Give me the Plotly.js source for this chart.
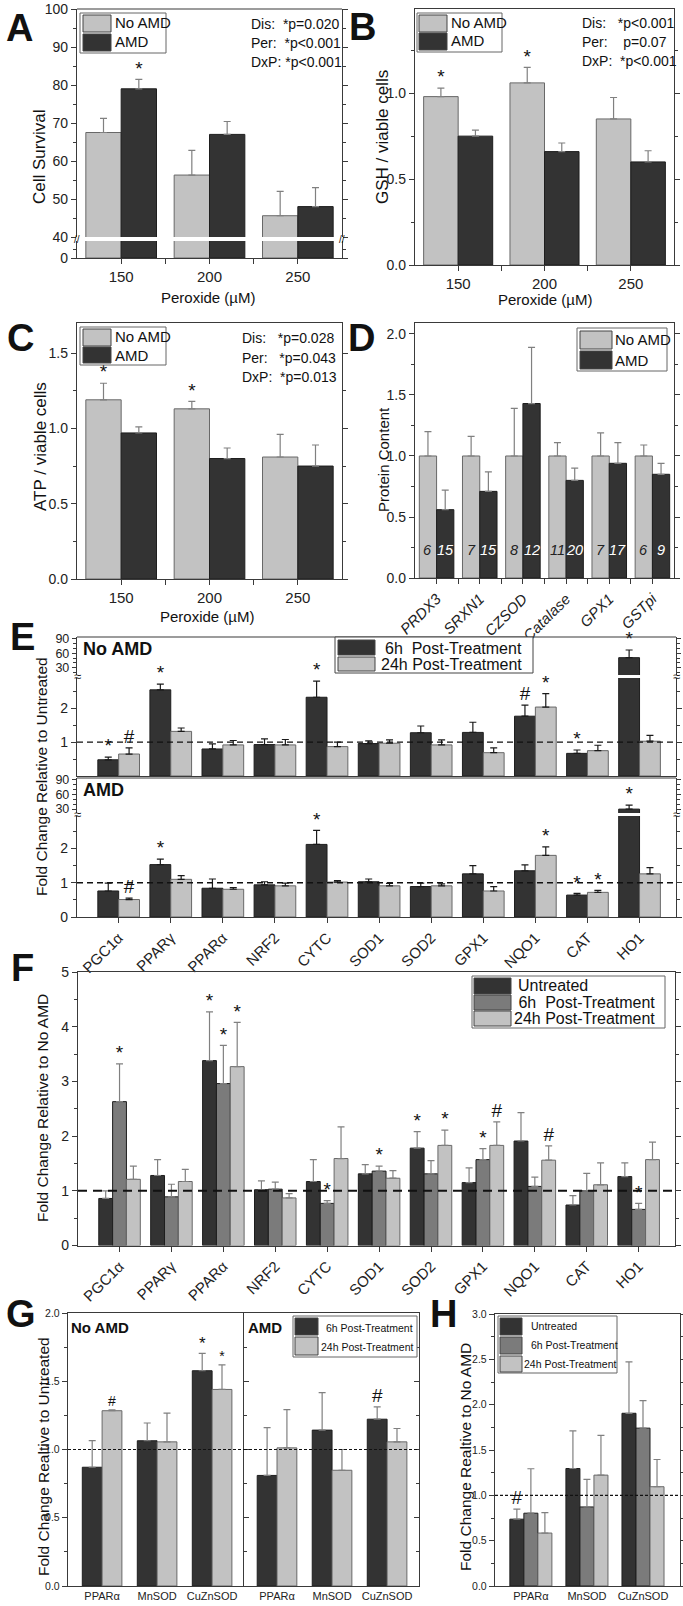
<!DOCTYPE html>
<html>
<head>
<meta charset="utf-8">
<script src="https://cdn.plot.ly/plotly-3.0.1.min.js"></script>
<style>
  body { margin: 0; background: #fff; }
  #fig { width: 683px; height: 1606px; }
</style>
</head>
<body>
<div id="fig"></div>
<script>
// ---- data ----
// A: cell survival
var peroxide = ['150', '200', '250'];
var aNoAmd = [67.5, 56.3, 45.6], aNoAmdErr = [3.7, 6.5, 6.4];
var aAmd = [79, 67, 48], aAmdErr = [2.5, 3.4, 5.0];
var aSigAmd = ['*', '', ''];
// B: GSH
var bNoAmd = [0.98, 1.06, 0.85], bNoAmdErr = [0.05, 0.09, 0.125];
var bAmd = [0.75, 0.66, 0.60], bAmdErr = [0.035, 0.05, 0.065];
var bSigNo = ['*', '*', ''];
// C: ATP
var cNoAmd = [1.19, 1.13, 0.81], cNoAmdErr = [0.11, 0.05, 0.15];
var cAmd = [0.97, 0.80, 0.75], cAmdErr = [0.04, 0.07, 0.14];
var cSigNo = ['*', '*', ''];
// D: protein content
var proteins = ['PRDX3', 'SRXN1', 'CZSOD', 'Catalase', 'GPX1', 'GSTpi'];
var dNoAmd = [1, 1, 1, 1, 1, 1], dNoAmdErr = [0.2, 0.16, 0.39, 0.11, 0.19, 0.09];
var dAmd = [0.56, 0.71, 1.43, 0.80, 0.94, 0.85], dAmdErr = [0.16, 0.16, 0.46, 0.10, 0.17, 0.09];
var dNoAmdN = [6, 7, 8, 11, 7, 6], dAmdN = [15, 15, 12, 20, 17, 9];
// E: fold change relative to untreated
var genes = ['PGC1α', 'PPARγ', 'PPARα', 'NRF2', 'CYTC', 'SOD1', 'SOD2', 'GPX1', 'NQO1', 'CAT', 'HO1'];
var eNo6h = [0.48, 2.55, 0.80, 0.93, 2.33, 0.96, 1.28, 1.29, 1.77, 0.67, 51];
var eNo6hErr = [0.08, 0.17, 0.15, 0.17, 0.48, 0.08, 0.20, 0.30, 0.33, 0.10, 16];
var eNo24h = [0.65, 1.32, 0.92, 0.92, 0.87, 0.97, 0.92, 0.69, 2.04, 0.75, 1.03];
var eNo24hErr = [0.18, 0.10, 0.13, 0.16, 0.13, 0.10, 0.15, 0.14, 0.40, 0.16, 0.17];
var eNoSig6h = ['*', '*', '', '', '*', '', '', '', '#', '*', '*'];
var eNoSig24h = ['#', '', '', '', '', '', '', '', '*', '', ''];
var eAmd6h = [0.76, 1.53, 0.84, 0.94, 2.12, 1.03, 0.89, 1.26, 1.35, 0.64, 30];
var eAmd6hErr = [0.23, 0.16, 0.27, 0.09, 0.41, 0.08, 0.10, 0.24, 0.17, 0.05, 8];
var eAmd24h = [0.51, 1.10, 0.81, 0.91, 1.02, 0.91, 0.91, 0.76, 1.80, 0.72, 1.26];
var eAmd24hErr = [0.04, 0.11, 0.05, 0.08, 0.04, 0.07, 0.06, 0.13, 0.25, 0.06, 0.18];
var eAmdSig6h = ['', '*', '', '', '*', '', '', '', '', '*', '*'];
var eAmdSig24h = ['#', '', '', '', '', '', '', '', '*', '*', ''];
// F: fold change relative to No AMD
var fUnt = [0.86, 1.28, 3.38, 1.02, 1.17, 1.31, 1.78, 1.15, 1.91, 0.74, 1.26];
var fUntErr = [0.14, 0.29, 0.89, 0.16, 0.40, 0.17, 0.30, 0.27, 0.52, 0.17, 0.25];
var f6h = [2.63, 0.89, 2.96, 1.03, 0.77, 1.36, 1.31, 1.57, 1.08, 1.00, 0.66];
var f6hErr = [0.69, 0.23, 0.70, 0.13, 0.05, 0.09, 0.24, 0.20, 0.17, 0.32, 0.11];
var f24h = [1.21, 1.17, 3.27, 0.87, 1.59, 1.23, 1.83, 1.83, 1.56, 1.11, 1.57];
var f24hErr = [0.24, 0.22, 0.81, 0.08, 0.58, 0.14, 0.28, 0.43, 0.26, 0.40, 0.32];
var fSigUnt = ['', '', '*', '', '', '', '*', '', '', '', ''];
var fSig6h = ['*', '', '*', '', '*', '*', '', '*', '', '', '*'];
var fSig24h = ['', '', '*', '', '', '', '*', '#', '#', '', ''];
// G / H: antioxidant enzymes
var enzymes = ['PPARα', 'MnSOD', 'CuZnSOD'];
var gNo6h = [0.87, 1.064, 1.577], gNo6hErr = [0.195, 0.13, 0.127];
var gNo24h = [1.284, 1.056, 1.44], gNo24hErr = [0.006, 0.21, 0.18];
var gNoSig6h = ['', '', '*'], gNoSig24h = ['#', '', '*'];
var gAmd6h = [0.81, 1.142, 1.222], gAmd6hErr = [0.35, 0.274, 0.09];
var gAmd24h = [1.012, 0.848, 1.056], gAmd24hErr = [0.28, 0.152, 0.098];
var gAmdSig6h = ['', '', '#'];
var hUnt = [0.737, 1.296, 1.905], hUntErr = [0.11, 0.416, 0.566];
var h6h = [0.803, 0.872, 1.741], h6hErr = [0.49, 0.303, 0.303];
var h24h = [0.584, 1.223, 1.095], h24hErr = [0.226, 0.438, 0.3];
var hSigUnt = ['#', '', ''];

// ---- styling ----
var W = 683, H = 1606;
var cLight = '#c2c2c2', cMid = '#7b7b7b', cDark = '#333333';
var errGray = '#808080', axCol = '#3a3a3a';
var font = 'Arial, "Liberation Sans", Helvetica, sans-serif';
var narrow = '"Liberation Sans Narrow", "Arial Narrow", Arial, sans-serif';

function px(x) { return x / W; }
function py(y) { return 1 - y / H; }
function dom(top, bottom) { return [py(bottom), py(top)]; }
function idx(arr) { return arr.map(function (d, i) { return i; }); }
function zeros(arr) { return arr.map(function () { return 0; }); }
function between(arr) { return idx(arr).slice(1).map(function (i) { return i - 0.5; }); }

var data = [];
var shapes = [];
var notes = [];

function addBars(xa, ya, vals, errs, off, w, color, errColor) {
  data.push({
    type: 'bar', x: idx(vals), y: vals, xaxis: xa, yaxis: ya, offset: off, width: w,
    marker: {color: color, line: {color: color === cLight ? '#686868' : '#1e1e1e', width: 1}},
    error_y: {type: 'data', symmetric: false, array: errs, arrayminus: zeros(vals),
      color: errColor, thickness: 1.2, width: 3.5},
    hoverinfo: 'skip'
  });
}

function addMarks(xa, ya, vals, errs, sig, off, w, lo, hi, size) {
  var x = [], y = [], t = [];
  vals.forEach(function (v, i) {
    var top = v + errs[i];
    if (sig[i] && top >= lo && top <= hi) { x.push(i + off + w / 2); y.push(top); t.push(sig[i]); }
  });
  if (!x.length) return;
  data.push({
    type: 'scatter', mode: 'text', x: x, y: y, text: t, textposition: 'top center',
    textfont: {size: size || 19, family: font, color: '#111'}, cliponaxis: false,
    xaxis: xa, yaxis: ya, hoverinfo: 'skip'
  });
}

function note(text, x, y, size, opts) {
  var a = {text: text, xref: 'paper', yref: 'paper', x: px(x), y: py(y), showarrow: false,
    xanchor: 'left', yanchor: 'middle', font: {family: font, size: size, color: '#111'}};
  for (var k in (opts || {})) a[k] = opts[k];
  notes.push(a);
}

function rect(x0, y0, x1, y1, fill, line) {
  shapes.push({type: 'rect', xref: 'paper', yref: 'paper', x0: px(x0), x1: px(x1), y0: py(y1), y1: py(y0),
    fillcolor: fill, line: {color: line, width: 1}});
}

function ax(o) {
  var a = {showline: true, linecolor: axCol, linewidth: 1.2, ticks: 'outside', ticklen: 5, tickwidth: 1,
    tickcolor: axCol, showgrid: false, zeroline: false, fixedrange: true, automargin: false,
    tickfont: {family: font, size: 14, color: '#222'}};
  for (var k in o) a[k] = o[k];
  return a;
}
function minorD(d) { return {dtick: d, ticks: 'outside', ticklen: 3, tickcolor: axCol}; }
function minorV(v, len) { return {tickmode: 'array', tickvals: v, ticks: 'outside', ticklen: len || 3, tickcolor: axCol}; }

// ---- A ----
addBars('x', 'y', aNoAmd, aNoAmdErr, -0.4, 0.4, cLight, errGray);
addBars('x', 'y2', aNoAmd, aNoAmdErr, -0.4, 0.4, cLight, errGray);
addBars('x', 'y', aAmd, aAmdErr, 0, 0.4, cDark, errGray);
addBars('x', 'y2', aAmd, aAmdErr, 0, 0.4, cDark, errGray);
addMarks('x', 'y', aAmd, aAmdErr, aSigAmd, 0, 0.4, 40, 100);
// ---- B ----
addBars('x3', 'y3', bNoAmd, bNoAmdErr, -0.4, 0.4, cLight, errGray);
addBars('x3', 'y3', bAmd, bAmdErr, 0, 0.4, cDark, errGray);
addMarks('x3', 'y3', bNoAmd, bNoAmdErr, bSigNo, -0.4, 0.4, -1e9, 1e9);
// ---- C ----
addBars('x4', 'y4', cNoAmd, cNoAmdErr, -0.4, 0.4, cLight, errGray);
addBars('x4', 'y4', cAmd, cAmdErr, 0, 0.4, cDark, errGray);
addMarks('x4', 'y4', cNoAmd, cNoAmdErr, cSigNo, -0.4, 0.4, -1e9, 1e9);
// ---- D ----
addBars('x5', 'y5', dNoAmd, dNoAmdErr, -0.4, 0.4, cLight, errGray);
addBars('x5', 'y5', dAmd, dAmdErr, 0, 0.4, cDark, errGray);
dNoAmdN.forEach(function (n, i) {
  notes.push({text: '<i>' + n + '</i>', xref: 'x5', yref: 'y5 domain', x: i - 0.2, y: 0.07, showarrow: false,
    font: {family: font, size: 14.5, color: '#222'}});
  notes.push({text: '<i>' + dAmdN[i] + '</i>', xref: 'x5', yref: 'y5 domain', x: i + 0.2, y: 0.07, showarrow: false,
    font: {family: font, size: 14.5, color: '#fff'}});
});
// ---- E ----
[['y6', 15, 94], ['y7', 0, 2.9]].forEach(function (s) {
  addBars('x6', s[0], eNo6h, eNo6hErr, -0.4, 0.4, cDark, '#1a1a1a');
  addBars('x6', s[0], eNo24h, eNo24hErr, 0, 0.4, cLight, '#1a1a1a');
  addMarks('x6', s[0], eNo6h, eNo6hErr, eNoSig6h, -0.4, 0.4, s[1], s[2], 19);
  addMarks('x6', s[0], eNo24h, eNo24hErr, eNoSig24h, 0, 0.4, s[1], s[2], 19);
});
[['y8', 22, 94], ['y9', 0, 2.95]].forEach(function (s) {
  addBars('x7', s[0], eAmd6h, eAmd6hErr, -0.4, 0.4, cDark, '#1a1a1a');
  addBars('x7', s[0], eAmd24h, eAmd24hErr, 0, 0.4, cLight, '#1a1a1a');
  addMarks('x7', s[0], eAmd6h, eAmd6hErr, eAmdSig6h, -0.4, 0.4, s[1], s[2], 19);
  addMarks('x7', s[0], eAmd24h, eAmd24hErr, eAmdSig24h, 0, 0.4, s[1], s[2], 19);
});
// ---- F ----
var fw = 0.8 / 3;
addBars('x8', 'y10', fUnt, fUntErr, -0.4, fw, cDark, errGray);
addBars('x8', 'y10', f6h, f6hErr, -0.4 + fw, fw, cMid, errGray);
addBars('x8', 'y10', f24h, f24hErr, -0.4 + 2 * fw, fw, cLight, errGray);
addMarks('x8', 'y10', fUnt, fUntErr, fSigUnt, -0.4, fw, -1e9, 1e9);
addMarks('x8', 'y10', f6h, f6hErr, fSig6h, -0.4 + fw, fw, -1e9, 1e9);
addMarks('x8', 'y10', f24h, f24hErr, fSig24h, -0.4 + 2 * fw, fw, -1e9, 1e9);
// ---- G ----
addBars('x9', 'y11', gNo6h, gNo6hErr, -0.36, 0.36, cDark, errGray);
addBars('x9', 'y11', gNo24h, gNo24hErr, 0, 0.36, cLight, errGray);
addMarks('x9', 'y11', gNo6h, gNo6hErr, gNoSig6h, -0.36, 0.36, -1e9, 1e9, 17);
addMarks('x9', 'y11', gNo24h, gNo24hErr, gNoSig24h, 0, 0.36, -1e9, 1e9, 14);
addBars('x10', 'y12', gAmd6h, gAmd6hErr, -0.36, 0.36, cDark, errGray);
addBars('x10', 'y12', gAmd24h, gAmd24hErr, 0, 0.36, cLight, errGray);
addMarks('x10', 'y12', gAmd6h, gAmd6hErr, gAmdSig6h, -0.36, 0.36, -1e9, 1e9, 19);
// ---- H ----
addBars('x11', 'y13', hUnt, hUntErr, -0.375, 0.25, cDark, errGray);
addBars('x11', 'y13', h6h, h6hErr, -0.125, 0.25, cMid, errGray);
addBars('x11', 'y13', h24h, h24hErr, 0.125, 0.25, cLight, errGray);
addMarks('x11', 'y13', hUnt, hUntErr, hSigUnt, -0.375, 0.25, -1e9, 1e9, 19);

// ---- reference lines and borders ----
function hline(xa, ya, val, dash, width) {
  shapes.push({type: 'line', xref: xa + ' domain', x0: 0, x1: 1, yref: ya, y0: val, y1: val,
    line: {color: '#111', width: width, dash: dash}});
}
hline('x6', 'y7', 1, '6px,4px', 1.3);
hline('x7', 'y9', 1, '6px,4px', 1.3);
hline('x8', 'y10', 1, '9px,6px', 2);
hline('x9', 'y11', 1, '3px,2px', 1.2);
hline('x10', 'y12', 1, '3px,2px', 1.2);
hline('x11', 'y13', 1, '3px,2px', 1.2);
[['x', 'y'], ['x6', 'y6'], ['x7', 'y8']].forEach(function (p) {
  shapes.push({type: 'line', xref: p[0] + ' domain', x0: 0, x1: 1, yref: p[1] + ' domain', y0: 1, y1: 1,
    line: {color: axCol, width: 1.2}});
});
// axis break marks
note('//', 77, 239, 10, {xanchor: 'center'});
note('//', 342, 239, 10, {xanchor: 'center'});
[676.5, 814.5].forEach(function (y) {
  note('≈', 77, y, 13, {xanchor: 'center'});
  note('≈', 676, y, 13, {xanchor: 'center'});
});

// ---- legends ----
rect(80, 13, 166, 53, '#fff', '#666');
rect(83, 15, 111, 32, cLight, '#444'); rect(83, 34, 111, 51, cDark, '#444');
note('No AMD', 113, 23, 15); note('AMD', 113, 42, 15);
rect(417, 13, 502, 52, '#fff', '#666');
rect(419, 15, 447, 32, cLight, '#444'); rect(419, 33, 447, 50, cDark, '#444');
note('No AMD', 449, 23, 15); note('AMD', 449, 41, 15);
rect(80, 327, 166, 365, '#fff', '#666');
rect(83, 329, 111, 346, cLight, '#444'); rect(83, 347, 111, 363, cDark, '#444');
note('No AMD', 113, 337, 15); note('AMD', 113, 355, 15);
rect(577, 328, 667, 371, '#fff', '#666');
rect(580, 331, 612, 349, cLight, '#444'); rect(580, 351, 612, 369, cDark, '#444');
note('No AMD', 613, 340, 15); note('AMD', 613, 360, 15);
rect(335, 637, 533, 673, '#fff', '#444');
rect(338, 640, 375, 655, cDark, '#444'); rect(338, 657, 375, 671, cLight, '#444');
note('6h\u00a0 Post-Treatment', 383, 648, 16); note('24h Post-Treatment', 379, 664, 16);
rect(472, 976, 665, 1028, '#fff', '#666');
rect(474, 978, 511, 994, cDark, '#444'); rect(474, 995, 511, 1010, cMid, '#444'); rect(474, 1011, 511, 1026, cLight, '#444');
note('Untreated', 516, 985, 16); note('\u00a06h\u00a0 Post-Treatment', 512, 1002, 16); note('24h Post-Treatment', 512, 1018, 16);
var legN = {family: narrow, size: 10.5, color: '#111'};
rect(293, 1316, 417, 1357, '#fff', '#666');
rect(295, 1318, 318, 1335, cDark, '#444'); rect(295, 1337, 318, 1355, cLight, '#444');
note('6h Post-Treatment', 415, 1328, 10.5, {xanchor: 'right', font: legN});
note('24h Post-Treatment', 415, 1347, 10.5, {xanchor: 'right', font: legN});
rect(498, 1316, 617, 1373, '#fff', '#666');
rect(500, 1318, 522, 1335, cDark, '#444'); rect(500, 1337, 522, 1354, cMid, '#444'); rect(500, 1356, 522, 1372, cLight, '#444');
note('Untreated', 529, 1326, 10.5, {font: legN});
note('6h Post-Treatment', 529, 1345, 10.5, {font: legN});
note('24h Post-Treatment', 522, 1364, 10.5, {font: legN});

// ---- statistics text ----
['Dis:\u00a0 *p=0.020', 'Per:\u00a0 *p&lt;0.001', 'DxP: *p&lt;0.001'].forEach(function (t, i) { note(t, 249, 24 + i * 19, 14); });
['Dis:\u00a0\u00a0 *p&lt;0.001', 'Per:\u00a0\u00a0\u00a0 p=0.07', 'DxP:\u00a0 *p&lt;0.001'].forEach(function (t, i) { note(t, 580, 23 + i * 19, 14); });
['Dis:\u00a0\u00a0 *p=0.028', 'Per:\u00a0\u00a0 *p=0.043', 'DxP:\u00a0 *p=0.013'].forEach(function (t, i) { note(t, 240, 338 + i * 19.5, 14); });

// ---- panel letters and labels ----
[['A', 19, 28], ['B', 362, 27], ['C', 20, 338], ['D', 361, 338], ['E', 22, 637], ['F', 22, 968], ['G', 21, 1314], ['H', 443, 1314]]
  .forEach(function (l) { note('<b>' + l[0] + '</b>', l[1], l[2], 38, {xanchor: 'center'}); });
note('<b>No AMD</b>', 81, 649, 18); note('<b>AMD</b>', 81, 790, 18);
note('<b>No AMD</b>', 69, 1327, 15); note('<b>AMD</b>', 246, 1327, 15);

// ---- axis titles ----
function ytitle(t, x, y, size) { note(t, x, y, size, {xanchor: 'center', textangle: -90}); }
ytitle('Cell Survival', 40, 157, 17);
ytitle('GSH / viable cells', 382, 137, 17);
ytitle('ATP / viable cells', 40, 447, 17);
ytitle('Protein Content', 383, 460, 15);
ytitle('Fold Change Relative to Untreated', 42, 777, 15.5);
ytitle('Fold Change Relative to No AMD', 42, 1108, 15.5);
ytitle('Fold Change Realtive to Untreated', 43, 1457, 15.5);
ytitle('Fold Change Realtive to No AMD', 465, 1457, 15.5);
note('Peroxide (µM)', 208, 298, 15, {xanchor: 'center'});
note('Peroxide (µM)', 545, 300, 15, {xanchor: 'center'});
note('Peroxide (µM)', 207, 616, 15, {xanchor: 'center'});

// ---- axes ----
var tf15 = {family: font, size: 15, color: '#222'};
var tfRot = {family: font, size: 15, color: '#222'};
var tfN = {family: narrow, size: 10.5, color: '#222'};
var tfNx = {family: narrow, size: 11, color: '#222'};
var layout = {
  width: W, height: H, margin: {l: 0, r: 0, t: 0, b: 0}, showlegend: false, barmode: 'overlay',
  paper_bgcolor: '#fff', plot_bgcolor: '#fff', font: {family: font, color: '#222'},
  shapes: shapes, annotations: notes,
  // A
  xaxis: ax({domain: [px(77), px(342)], range: [-0.5, 2.5], anchor: 'y2', tickvals: idx(peroxide), ticktext: peroxide,
    tickfont: tf15, minor: minorV(between(peroxide), 5)}),
  yaxis: ax({domain: dom(9, 237), range: [40, 100], anchor: 'x', dtick: 10, tick0: 0, mirror: 'ticks', minor: minorD(5)}),
  yaxis2: ax({domain: dom(241, 258), range: [0, 40], anchor: 'x', tickvals: [0], mirror: 'ticks', minor: minorV([20])}),
  // B
  xaxis3: ax({domain: [px(415), px(674)], range: [-0.5, 2.5], anchor: 'y3', tickvals: idx(peroxide), ticktext: peroxide,
    tickfont: tf15, mirror: true, minor: minorV(between(peroxide), 5)}),
  yaxis3: ax({domain: dom(9, 265), range: [0, 1.49], anchor: 'x3', dtick: 0.5, tickformat: '.1f', mirror: 'ticks', minor: minorD(0.25)}),
  // C
  xaxis4: ax({domain: [px(77), px(342)], range: [-0.5, 2.5], anchor: 'y4', tickvals: idx(peroxide), ticktext: peroxide,
    tickfont: tf15, mirror: true, minor: minorV(between(peroxide), 5)}),
  yaxis4: ax({domain: dom(323, 579), range: [0, 1.7], anchor: 'x4', dtick: 0.5, tickformat: '.1f', mirror: 'ticks', minor: minorD(0.25)}),
  // D
  xaxis5: ax({domain: [px(415), px(674)], range: [-0.5, 5.5], anchor: 'y5', tickvals: idx(proteins),
    ticktext: proteins.map(function (p) { return '<i>' + p + '</i>'; }), tickangle: -45, mirror: true,
    tickfont: tfRot, minor: minorV(between(proteins), 5)}),
  yaxis5: ax({domain: dom(323, 578), range: [0, 2.09], anchor: 'x5', dtick: 0.5, tickformat: '.1f', mirror: 'ticks', minor: minorD(0.25)}),
  // E (No AMD)
  xaxis6: ax({domain: [px(77), px(676)], range: [-0.8, 10.7], anchor: 'y7', showticklabels: false, ticks: ''}),
  yaxis6: ax({domain: dom(637, 675), range: [15, 94], anchor: 'x6', tickvals: [30, 60, 90], mirror: 'ticks',
    tickfont: {family: font, size: 12.5, color: '#222'}, ticklen: 4, minor: minorD(10)}),
  yaxis7: ax({domain: dom(678, 776), range: [0, 2.9], anchor: 'x6', tickvals: [1, 2], mirror: 'ticks', minor: minorV([0.5, 1.5, 2.5])}),
  // E (AMD)
  xaxis7: ax({domain: [px(77), px(676)], range: [-0.8, 10.7], anchor: 'y9', tickvals: idx(genes), ticktext: genes,
    tickangle: -45, tickfont: tfRot}),
  yaxis8: ax({domain: dom(778, 813), range: [22, 94], anchor: 'x7', tickvals: [30, 60, 90], mirror: 'ticks',
    tickfont: {family: font, size: 12.5, color: '#222'}, ticklen: 4, minor: minorD(10)}),
  yaxis9: ax({domain: dom(816, 917), range: [0, 2.95], anchor: 'x7', tickvals: [0, 1, 2], mirror: 'ticks', minor: minorV([0.5, 1.5, 2.5])}),
  // F
  xaxis8: ax({domain: [px(78), px(675)], range: [-0.8, 10.7], anchor: 'y10', tickvals: idx(genes), ticktext: genes,
    tickangle: -45, tickfont: tfRot, mirror: true}),
  yaxis10: ax({domain: dom(972, 1245.5), range: [0, 5], anchor: 'x8', dtick: 1, mirror: 'ticks', minor: minorD(0.5)}),
  // G
  xaxis9: ax({domain: [px(68), px(244)], range: [-0.62, 2.58], anchor: 'y11', tickvals: idx(enzymes), ticktext: enzymes,
    ticks: '', mirror: true, tickfont: tfNx}),
  yaxis11: ax({domain: dom(1313, 1586), range: [0, 2], anchor: 'x9', dtick: 0.5, tickformat: '.1f', tickfont: tfN, minor: minorD(0.25)}),
  xaxis10: ax({domain: [px(244), px(419)], range: [-0.6, 2.58], anchor: 'y12', tickvals: idx(enzymes), ticktext: enzymes,
    ticks: '', mirror: true, tickfont: tfNx}),
  yaxis12: ax({domain: dom(1313, 1586), range: [0, 2], anchor: 'x10', dtick: 0.5, showticklabels: false, ticks: 'inside',
    mirror: 'ticks', minor: {dtick: 0.25, ticks: 'inside', ticklen: 3, tickcolor: axCol}}),
  // H
  xaxis11: ax({domain: [px(495), px(680)], range: [-0.64, 2.66], anchor: 'y13', tickvals: idx(enzymes), ticktext: enzymes,
    ticks: '', mirror: true, tickfont: tfNx}),
  yaxis13: ax({domain: dom(1314, 1586), range: [0, 3], anchor: 'x11', dtick: 0.5, tickformat: '.1f', tickfont: tfN,
    mirror: 'ticks', minor: minorD(0.25)})
};

Plotly.newPlot('fig', data, layout, {staticPlot: true});
</script>
</body>
</html>
